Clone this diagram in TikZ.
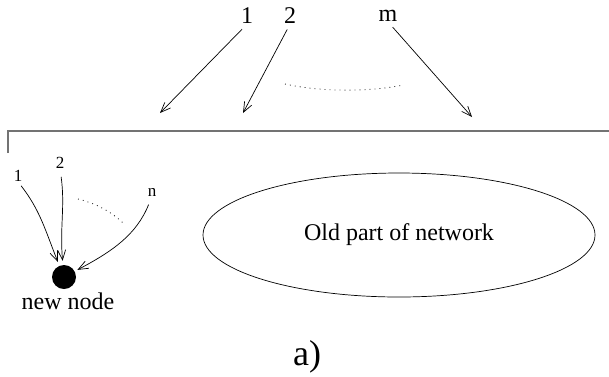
\documentclass[tikz,border=0pt]{standalone}
\usepackage{fontspec}
\setmainfont{Liberation Serif}
\usetikzlibrary{arrows.meta,shapes.geometric}
\begin{document}
\begin{tikzpicture}[x=1pt,y=-1pt,
  >={Straight Barb[length=10pt,width=8pt]},
  conn/.style={->, line width=0.7pt},
  dots/.style={line width=0.8pt, dash pattern=on 0.8pt off 4.2pt},
  big/.style={font=\fontsize{24}{28}\selectfont, inner sep=0pt},
  small/.style={font=\fontsize{17}{20}\selectfont, inner sep=0pt},
  frame/.style={draw=black!55, line width=1.8pt}]
\useasboundingbox (0,0) rectangle (609,376);
% top labels
\node[big] (t1) at (247,16) {1};
\node[big] (t2) at (290,16) {2};
\node[big] (tm) at (388,16) {m};
\coordinate (e1) at (160,113);
\coordinate (e2) at (243,113);
\coordinate (em) at (472,117);
\draw[conn, shorten <=7pt] (t1.south) -- (e1);
\draw[conn, shorten <=6pt] (t2.south) -- (e2);
\draw[conn, shorten <=7pt] (tm.south) -- (em);
\draw[dots] (285,84) .. controls (320,92) and (370,92) .. (403,85);
% frame
\draw[frame] (8,153) -- (8,131) -- (609,131);
% left part
\node[small] (l1) at (18,176) {1};
\node[small] (l2) at (60,163) {2};
\node[small] (ln) at (152,192) {n};
\node[circle, fill=black, minimum size=24pt, inner sep=0pt] (dot) at (64,277) {};
\node[big] (nn) at (68,301) {new node};
\draw[conn, shorten <=5pt, shorten >=4pt] (l1.south) to[out=-52, in=112] (dot);
\draw[conn, shorten <=8pt, shorten >=4pt] (l2.south) to[out=-82, in=95] (dot);
\draw[conn, shorten <=9pt, shorten >=3pt] (ln.south) to[out=-112, in=28] (dot);
\draw[dots] (78,199) .. controls (95,203) and (112,212) .. (123,223);
% old part
\node[ellipse, draw, line width=0.7pt, minimum width=392pt, minimum height=124pt,
      inner sep=0pt, font=\fontsize{24}{28}\selectfont] (old) at (399,235) {Old part of network};
% caption
\node[font=\fontsize{36}{40}\selectfont, inner sep=0pt] (cap) at (307,357) {a)};
\end{tikzpicture}
\end{document}
